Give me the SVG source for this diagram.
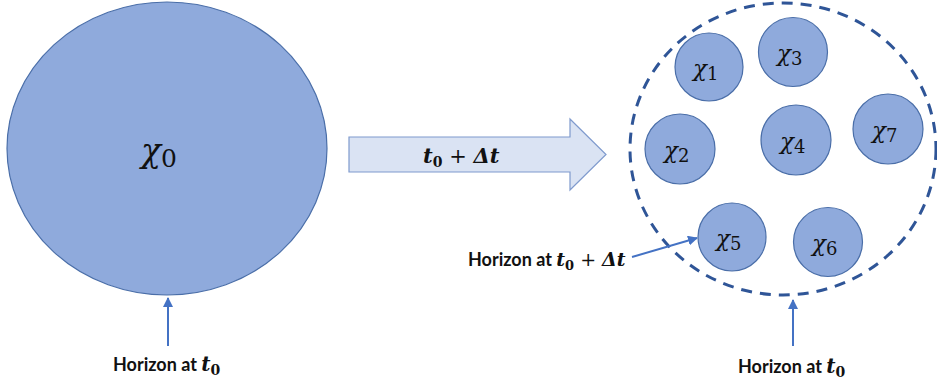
<svg xmlns="http://www.w3.org/2000/svg" width="937" height="385" viewBox="0 0 937 385">
<style>
.blob{fill:#8FAADC;stroke:#4A6EA8;stroke-width:1.2}
.chi{font-family:"DejaVu Serif","Liberation Serif",serif;font-style:italic;fill:#111}
.sub{font-style:normal}
.lbl{font-family:Lato,"Open Sans","Liberation Sans",sans-serif;font-weight:bold;font-size:18px;fill:#111}
.math{font-family:"DejaVu Serif","Liberation Serif",serif;font-weight:bold;font-style:italic;fill:#111}
.conn{stroke:#4472C4;stroke-width:2;fill:none}
</style>
<defs>
<marker id="ah" viewBox="0 0 10 10" refX="9" refY="5" markerWidth="5" markerHeight="5" orient="auto" markerUnits="strokeWidth">
<path d="M0,0 L10,5 L0,10 z" fill="#4472C4"/>
</marker>
</defs>
<g id="x0">
<ellipse class="blob" cx="167" cy="148.5" rx="160" ry="146.5"/>
<text class="chi" x="141" y="162" font-size="33">χ<tspan class="sub" font-size="25" dy="5">0</tspan></text>
</g>
<g id="step-arrow">
<path d="M349,137 H570 V119 L606,154.5 L570,190 V172 H349 Z" fill="#DAE3F3" stroke="#7F9ACD" stroke-width="1.2"/>
<text class="math" x="423" y="163" font-size="21">t<tspan font-size="14" dy="4" font-style="normal">0</tspan><tspan dy="-4" font-style="normal" font-weight="normal"> + </tspan>Δt</text>
</g>
<g id="horizon-dt">
<ellipse cx="783" cy="149" rx="153" ry="146" fill="none" stroke="#2F5597" stroke-width="3" stroke-dasharray="11,8"/>
</g>
<g id="x1"><circle class="blob" cx="709" cy="67" r="34"/><text class="chi" x="693" y="76" font-size="23">χ<tspan class="sub" font-size="18" dy="4">1</tspan></text></g>
<g id="x3"><circle class="blob" cx="793" cy="52" r="34.5"/><text class="chi" x="777" y="61" font-size="23">χ<tspan class="sub" font-size="18" dy="4">3</tspan></text></g>
<g id="x2"><circle class="blob" cx="680" cy="149" r="35"/><text class="chi" x="664" y="158" font-size="23">χ<tspan class="sub" font-size="18" dy="4">2</tspan></text></g>
<g id="x4"><circle class="blob" cx="796" cy="140" r="35"/><text class="chi" x="780" y="149" font-size="23">χ<tspan class="sub" font-size="18" dy="4">4</tspan></text></g>
<g id="x7"><circle class="blob" cx="888" cy="129" r="35"/><text class="chi" x="872" y="138" font-size="23">χ<tspan class="sub" font-size="18" dy="4">7</tspan></text></g>
<g id="x5"><circle class="blob" cx="732" cy="237" r="34"/><text class="chi" x="716" y="246" font-size="23">χ<tspan class="sub" font-size="18" dy="4">5</tspan></text></g>
<g id="x6"><circle class="blob" cx="828" cy="242" r="34.5"/><text class="chi" x="812" y="251" font-size="23">χ<tspan class="sub" font-size="18" dy="4">6</tspan></text></g>
<g id="connectors">
<line class="conn" x1="168" y1="346" x2="168" y2="298" marker-end="url(#ah)"/>
<line class="conn" x1="793" y1="346" x2="793" y2="300" marker-end="url(#ah)"/>
<line class="conn" x1="632" y1="257" x2="697" y2="238" marker-end="url(#ah)"/>
</g>
<g id="lbl-left"><text class="lbl" x="113" y="371">Horizon at <tspan class="math" font-size="20">t<tspan font-size="14" dy="4" font-style="normal">0</tspan></tspan></text></g>
<g id="lbl-right"><text class="lbl" x="738" y="373">Horizon at <tspan class="math" font-size="20">t<tspan font-size="14" dy="4" font-style="normal">0</tspan></tspan></text></g>
<g id="lbl-mid"><text class="lbl" x="468" y="266">Horizon at <tspan class="math" font-size="19">t<tspan font-size="13" dy="4" font-style="normal">0</tspan><tspan dy="-4" font-style="normal" font-weight="normal"> + </tspan>Δt</tspan></text></g>
</svg>
